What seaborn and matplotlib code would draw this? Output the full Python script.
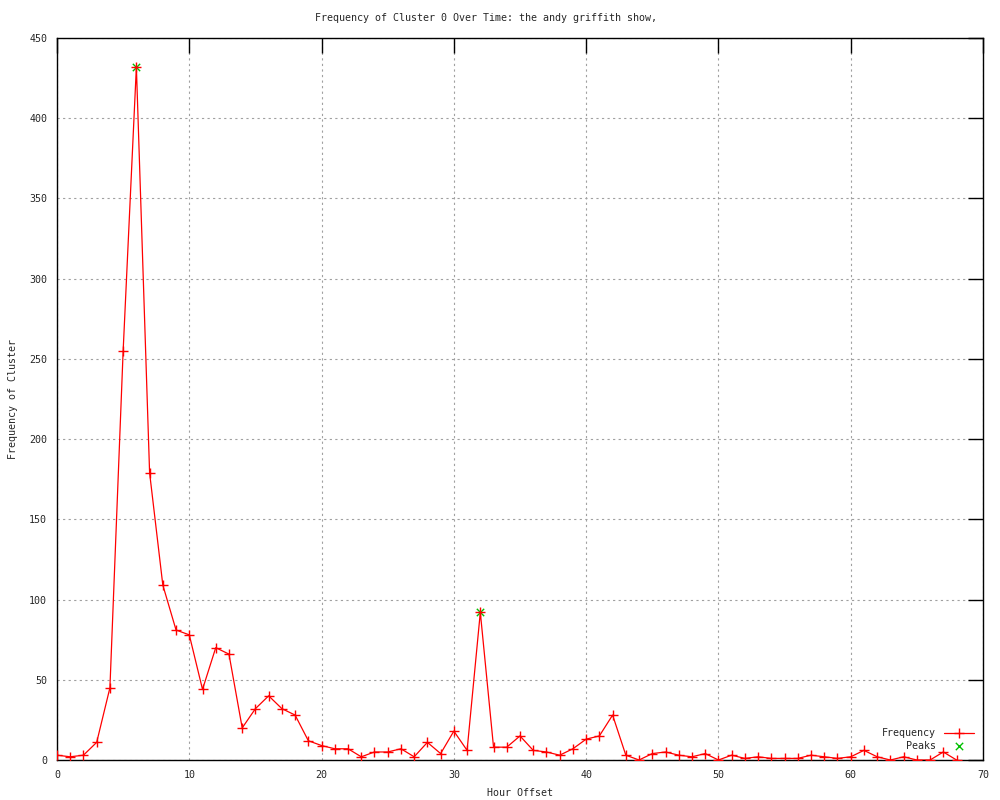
import numpy as np
import matplotlib
matplotlib.use("Agg")
import matplotlib.pyplot as plt
import pandas as pd
import seaborn as sns

hours = list(range(0, 69))
frequency = [3, 2, 3, 11, 45, 255, 432, 179, 109, 81,
             78, 44, 70, 66, 20, 32, 40, 32, 28, 12,
             9, 7, 7, 2, 5, 5, 7, 2, 11, 4,
             18, 6, 92, 8, 8, 15, 6, 5, 3, 7,
             13, 15, 28, 3, 0, 4, 5, 3, 2, 4,
             0, 3, 1, 2, 1, 1, 1, 3, 2, 1,
             2, 6, 2, 0, 2, 0, 0, 5, 0]
peak_hours = [6, 32]
peak_values = [432, 92]

sns.set_theme(style="white")
plt.rcParams['font.family'] = ['DejaVu Sans Mono']

df = pd.DataFrame({'hour': hours, 'frequency': frequency})
peaks = pd.DataFrame({'hour': peak_hours, 'frequency': peak_values})

fig = plt.figure(figsize=(10, 8), dpi=100)
ax = fig.add_axes([0.057, 0.05, 0.926, 0.9025])

sns.scatterplot(data=peaks, x='hour', y='frequency', ax=ax, color='#00c000',
                marker='x', s=28, linewidth=1.0, label='Peaks', zorder=2)
sns.lineplot(data=df, x='hour', y='frequency', ax=ax, color='#ff0000',
             marker='+', markersize=7, markeredgewidth=1.0,
             markeredgecolor='#ff0000', linewidth=0.9,
             label='Frequency', zorder=3)

ax.set_xlim(0, 70)
ax.set_ylim(0, 450)
ax.set_xticks(range(0, 71, 10))
ax.set_yticks(range(0, 451, 50))
ax.grid(True, color='#a0a0a0', linestyle=(0, (2, 3)), linewidth=0.8)
for s in ax.spines.values():
    s.set_color('black')
    s.set_linewidth(1.0)
ax.tick_params(direction='in', length=11, width=1.0, color='black',
               top=True, right=True, labelsize=7.2, pad=7)
ax.set_xlabel('Hour Offset', fontsize=7.2, labelpad=6)
ax.set_ylabel('Frequency of Cluster', fontsize=7.2, labelpad=8)

handles, labels = ax.get_legend_handles_labels()
order = [labels.index('Frequency'), labels.index('Peaks')]
ax.legend([handles[i] for i in order], [labels[i] for i in order],
          loc='lower right', frameon=False, markerfirst=False,
          fontsize=7.2, handlelength=3, borderaxespad=0.5,
          labelspacing=0.25)

fig.text(0.486, 0.977, 'Frequency of Cluster 0 Over Time: the andy griffith show,',
         ha='center', va='center', fontsize=7.2)

fig.savefig('out.png', dpi=100)
